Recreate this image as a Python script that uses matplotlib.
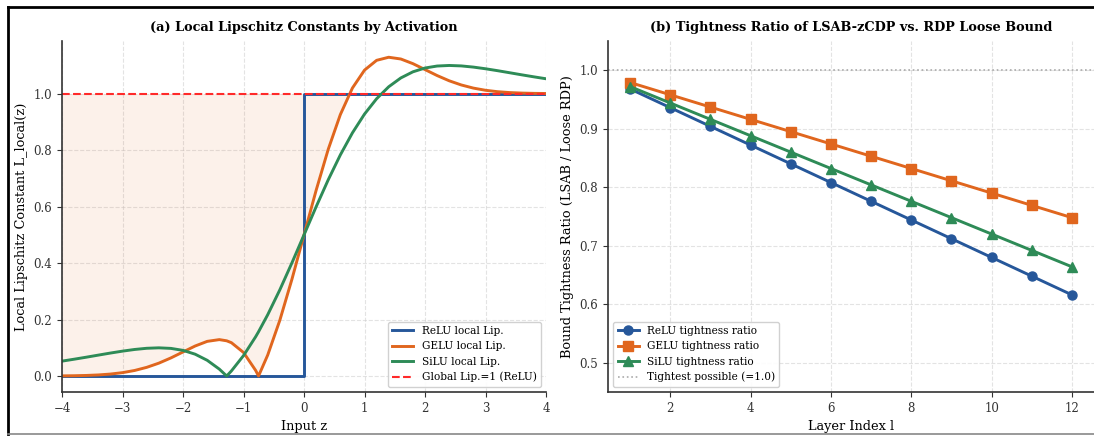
import matplotlib
matplotlib.use("Agg")
import matplotlib.pyplot as plt
from matplotlib.lines import Line2D

plt.rcParams['font.family'] = 'DejaVu Serif'

# ---- panel (a): local Lipschitz constants ----
z_grid = [-4.0, -3.8, -3.6, -3.4, -3.2, -3.0, -2.8, -2.6, -2.4, -2.2, -2.0,
          -1.8, -1.6, -1.4, -1.2785, -1.2, -1.0, -0.8, -0.7518, -0.6, -0.4,
          -0.2, 0.0, 0.2, 0.4, 0.6, 0.8, 1.0, 1.2, 1.4, 1.6, 1.8, 2.0, 2.2,
          2.4, 2.6, 2.8, 3.0, 3.2, 3.4, 3.6, 3.8, 4.0]
gelu_lip = [0.0005, 0.0010, 0.0020, 0.0038, 0.0069, 0.0119, 0.0196, 0.0307,
            0.0455, 0.0641, 0.0852, 0.1062, 0.1227, 0.1289, 0.1247, 0.1180,
            0.0833, 0.0199, 0.0, 0.0743, 0.1973, 0.3425, 0.5, 0.6575, 0.8027,
            0.9257, 1.0199, 1.0833, 1.1180, 1.1289, 1.1227, 1.1062, 1.0852,
            1.0641, 1.0455, 1.0307, 1.0196, 1.0119, 1.0069, 1.0038, 1.0020,
            1.0010, 1.0005]
silu_lip = [0.0527, 0.0595, 0.0666, 0.0740, 0.0813, 0.0881, 0.0940, 0.0982,
            0.0998, 0.0978, 0.0908, 0.0773, 0.0556, 0.0244, 0.0, 0.0180,
            0.0723, 0.1389, 0.1567, 0.2171, 0.3052, 0.4007, 0.5, 0.5993,
            0.6948, 0.7829, 0.8611, 0.9277, 0.9820, 1.0244, 1.0556, 1.0773,
            1.0908, 1.0978, 1.0998, 1.0982, 1.0940, 1.0881, 1.0813, 1.0740,
            1.0666, 1.0595, 1.0527]
relu_z = [-4.0, 0.0, 0.0, 4.0]
relu_lip = [0.0, 0.0, 1.0, 1.0]
global_lip = 1.0

# ---- panel (b): tightness ratio per layer ----
layers = [1, 2, 3, 4, 5, 6, 7, 8, 9, 10, 11, 12]
relu_ratio = [0.968, 0.936, 0.904, 0.872, 0.840, 0.808, 0.776, 0.744, 0.712, 0.680, 0.648, 0.616]
gelu_ratio = [0.979, 0.958, 0.937, 0.916, 0.895, 0.874, 0.853, 0.832, 0.811, 0.790, 0.769, 0.748]
silu_ratio = [0.972, 0.944, 0.916, 0.888, 0.860, 0.832, 0.804, 0.776, 0.748, 0.720, 0.692, 0.664]

C_RELU = '#26579a'
C_GELU = '#e0661e'
C_SILU = '#2e8b57'

fig = plt.figure(figsize=(10.94, 4.36), dpi=100)
ax1 = fig.add_axes([0.0567, 0.101, 0.4424, 0.805])
ax2 = fig.add_axes([0.5558, 0.101, 0.4442, 0.805])


def style_axis(ax):
    ax.spines['top'].set_visible(False)
    ax.spines['right'].set_visible(False)
    for s in ('left', 'bottom'):
        ax.spines[s].set_color('#333333')
        ax.spines[s].set_linewidth(1.2)
    ax.grid(True, linestyle='--', color='#cccccc', alpha=0.55, linewidth=0.8)
    ax.set_axisbelow(True)
    ax.tick_params(labelsize=8.5, colors='#333333', length=3.5)


# (a)
style_axis(ax1)
ax1.fill_between(z_grid, gelu_lip, global_lip,
                 where=[g < global_lip for g in gelu_lip], interpolate=True,
                 color=C_GELU, alpha=0.09, linewidth=0)
ax1.plot(relu_z, relu_lip, color=C_RELU, lw=2.1, label='ReLU local Lip.')
ax1.plot(z_grid, gelu_lip, color=C_GELU, lw=2.1, label='GELU local Lip.')
ax1.plot(z_grid, silu_lip, color=C_SILU, lw=2.1, label='SiLU local Lip.')
ax1.axhline(global_lip, color='#ff2a2a', ls='--', lw=1.5, label='Global Lip.=1 (ReLU)')
ax1.set_xlim(-4, 4)
ax1.set_ylim(-0.0565, 1.1865)
ax1.set_yticks([0.0, 0.2, 0.4, 0.6, 0.8, 1.0])
ax1.set_xlabel('Input z', fontsize=9.3)
ax1.set_ylabel('Local Lipschitz Constant L_local(z)', fontsize=9.3)
ax1.set_title('(a) Local Lipschitz Constants by Activation', fontsize=9.3,
              fontweight='bold', pad=7)
ax1.legend(loc='lower right', fontsize=7.6, framealpha=0.9, edgecolor='#cccccc')

# (b)
style_axis(ax2)
ax2.plot(layers, relu_ratio, color=C_RELU, lw=2.1, marker='o', ms=6.5, label='ReLU tightness ratio')
ax2.plot(layers, gelu_ratio, color=C_GELU, lw=2.1, marker='s', ms=6.5, label='GELU tightness ratio')
ax2.plot(layers, silu_ratio, color=C_SILU, lw=2.1, marker='^', ms=6.5, label='SiLU tightness ratio')
ax2.axhline(1.0, color='#aaaaaa', ls=':', lw=1.2, label='Tightest possible (=1.0)')
ax2.set_xlim(0.45, 12.55)
ax2.set_ylim(0.45, 1.05)
ax2.set_xticks([2, 4, 6, 8, 10, 12])
ax2.set_yticks([0.5, 0.6, 0.7, 0.8, 0.9, 1.0])
ax2.set_xlabel('Layer Index l', fontsize=9.3)
ax2.set_ylabel('Bound Tightness Ratio (LSAB / Loose RDP)', fontsize=9.3)
ax2.set_title('(b) Tightness Ratio of LSAB-zCDP vs. RDP Loose Bound', fontsize=9.3,
              fontweight='bold', pad=7)
ax2.legend(loc='lower left', fontsize=7.6, framealpha=0.9, edgecolor='#cccccc')

# outer frame
fig.add_artist(Line2D([0.0073, 0.0073], [0.004, 0.984], color='black', lw=2))
fig.add_artist(Line2D([0.0073, 1.0], [0.984, 0.984], color='black', lw=2))
fig.add_artist(Line2D([0.0073, 1.0], [0.004, 0.004], color='#888888', lw=1.2))

fig.savefig('out.png', dpi=100)
